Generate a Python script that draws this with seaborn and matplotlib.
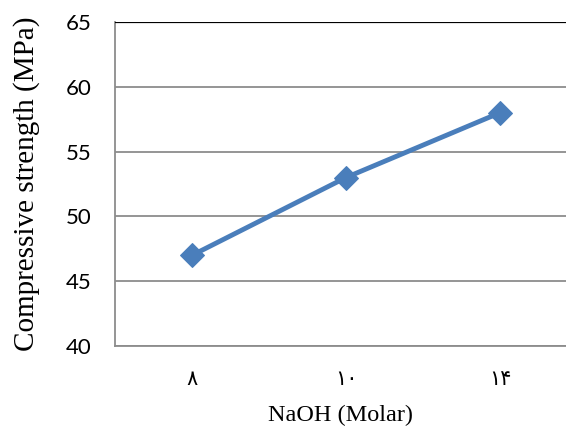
import matplotlib
matplotlib.use("Agg")
import matplotlib.pyplot as plt
import seaborn as sns
import pandas as pd

# NaOH molarity (Persian digits) and compressive strength
naoh_labels = ["۸", "۱۰", "۱۴"]
strength_mpa = [47, 53, 58]

df = pd.DataFrame({"naoh": naoh_labels, "strength": strength_mpa})

sns.set_style("white")
plt.rcParams["text.color"] = "black"
plt.rcParams["axes.labelcolor"] = "black"
plt.rcParams["xtick.color"] = "black"
plt.rcParams["ytick.color"] = "black"

fig = plt.figure(figsize=(5.66, 4.29), dpi=100)
ax = fig.add_axes([115 / 566, 1 - 346 / 429, 462 / 566, (346 - 22) / 429])

sns.lineplot(data=df, x="naoh", y="strength", ax=ax, color="#4A7EBB",
             linewidth=3.5, marker="D", markersize=12.5, markeredgecolor="#4A7EBB",
             sort=False)

ax.set_xlim(-0.5, 2.5)
ax.set_ylim(40, 65)
ax.set_yticks([40, 45, 50, 55, 60, 65])
ax.yaxis.grid(True, color="#8c8c8c", linewidth=1.3)
ax.xaxis.grid(False)
ax.set_axisbelow(True)

for side in ["top", "right"]:
    ax.spines[side].set_visible(False)
ax.spines["left"].set_color("#8c8c8c")
ax.spines["left"].set_linewidth(1.3)
ax.spines["bottom"].set_color("#8c8c8c")
ax.spines["bottom"].set_linewidth(1.3)
ax.axhline(65, color="black", linewidth=1.6, zorder=3)

ax.tick_params(axis="both", length=0, labelcolor="black")
ax.tick_params(axis="y", pad=17)
ax.tick_params(axis="x", pad=18)
for t in ax.get_yticklabels():
    t.set_fontfamily(["Lato", "DejaVu Sans"])
    t.set_fontsize(16)
for t in ax.get_xticklabels():
    t.set_fontfamily(["Liberation Serif", "DejaVu Sans"])
    t.set_fontsize(15)

ax.set_xlabel("NaOH (Molar)", fontfamily="Liberation Serif", fontsize=17.5, color="black")
ax.set_ylabel("Compressive strength (MPa)", fontfamily="Liberation Serif", fontsize=21, color="black")
ax.xaxis.set_label_coords((340 - 115) / 462, (346 - 415) / 324)
ax.yaxis.set_label_coords((27 - 115) / 462, 0.5)
ax.xaxis.label.set_va("center")
ax.yaxis.label.set_va("center")

fig.savefig("out.png", dpi=100)
